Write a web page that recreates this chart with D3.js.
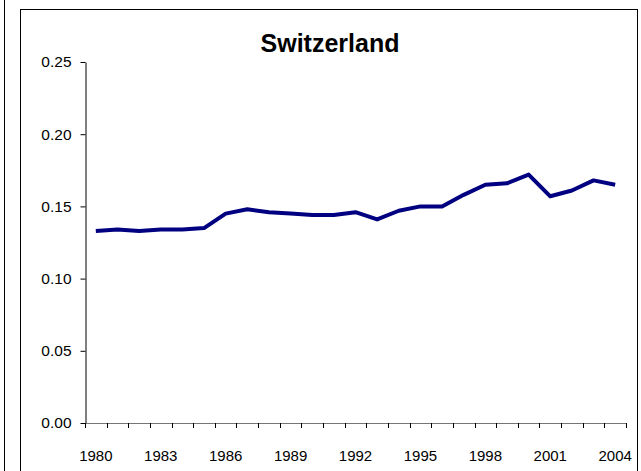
<!DOCTYPE html>
<html>
<head>
<meta charset="utf-8">
<script src="https://cdn.jsdelivr.net/npm/d3@7"></script>
<style>
  body { margin: 0; background: #fff; }
  svg { display: block; font-family: "Liberation Sans", Arial, sans-serif; }
</style>
</head>
<body>
<script>
/* Chart data */
var years = [1980, 1981, 1982, 1983, 1984, 1985, 1986, 1987, 1988, 1989, 1990, 1991, 1992,
             1993, 1994, 1995, 1996, 1997, 1998, 1999, 2000, 2001, 2002, 2003, 2004];
var values = [0.133, 0.134, 0.133, 0.134, 0.134, 0.135, 0.145, 0.148, 0.146, 0.145, 0.144, 0.144, 0.146,
              0.141, 0.147, 0.150, 0.150, 0.158, 0.165, 0.166, 0.172, 0.157, 0.161, 0.168, 0.165];
var yTicks = [0, 0.05, 0.10, 0.15, 0.20, 0.25];
var xLabels = [1980, 1983, 1986, 1989, 1992, 1995, 1998, 2001, 2004];
var title = "Switzerland";

/* Size of the page and plot area */
var width = 641;
var height = 471;
var plotLeft = 85, plotRight = 626, plotTop = 62, plotBottom = 423;

var svg = d3.select("body").append("svg")
            .attr("width", width)
            .attr("height", height);

/* Frames: edge of the neighbouring chart and this chart's border */
svg.append("line")
   .attr("x1", 4.5).attr("x2", 4.5)
   .attr("y1", 0).attr("y2", height)
   .attr("stroke", "#000");

svg.append("rect")
   .attr("x", 20.5).attr("y", 9.5)
   .attr("width", 617).attr("height", height)
   .attr("fill", "none")
   .attr("stroke", "#000");

/* Scales */
var x = d3.scaleBand()
          .domain(years)
          .range([plotLeft, plotRight]);

var y = d3.scaleLinear()
          .domain([0, 0.25])
          .range([plotBottom, plotTop]);

/* Y axis */
var yAxis = svg.append("g")
               .attr("transform", "translate(" + (plotLeft + 0.5) + ",0)")
               .call(d3.axisLeft(y)
                       .tickValues(yTicks)
                       .tickFormat(d3.format(".2f"))
                       .tickSize(5)
                       .tickSizeOuter(0)
                       .tickPadding(9));
yAxis.select(".domain").attr("stroke", "#000");
yAxis.selectAll("text")
     .attr("font-size", 15.5)
     .attr("font-family", "Liberation Sans, Arial, sans-serif")
     .attr("fill", "#000");

/* X axis: line, ticks between categories, labels every third year */
var xg = svg.append("g");
xg.append("line")
  .attr("x1", plotLeft).attr("x2", plotRight)
  .attr("y1", y(0) + 0.5).attr("y2", y(0) + 0.5)
  .attr("stroke", "#777");

var tickPositions = years.map(function(d) { return x(d); }).concat([plotRight]);
xg.selectAll(".xtick")
  .data(tickPositions)
  .enter()
  .append("line")
  .attr("class", "xtick")
  .attr("x1", function(d) { return Math.round(d) + 0.5; })
  .attr("x2", function(d) { return Math.round(d) + 0.5; })
  .attr("y1", y(0))
  .attr("y2", y(0) + 5)
  .attr("stroke", "#000");

xg.selectAll(".xlabel")
  .data(xLabels)
  .enter()
  .append("text")
  .attr("class", "xlabel")
  .attr("x", function(d) { return x(d) + x.bandwidth() / 2; })
  .attr("y", 461)
  .attr("text-anchor", "middle")
  .attr("font-size", 15)
  .text(function(d) { return d; });

/* Series line */
var line = d3.line()
             .x(function(d, i) { return x(years[i]) + x.bandwidth() / 2; })
             .y(function(d) { return y(d); });

svg.append("path")
   .datum(values)
   .attr("d", line)
   .attr("fill", "none")
   .attr("stroke", "#000080")
   .attr("stroke-width", 4)
   .attr("stroke-linejoin", "round");

/* Title */
svg.append("text")
   .attr("x", 330)
   .attr("y", 52)
   .attr("text-anchor", "middle")
   .attr("font-size", 25)
   .attr("font-weight", "bold")
   .text(title);
</script>
</body>
</html>
